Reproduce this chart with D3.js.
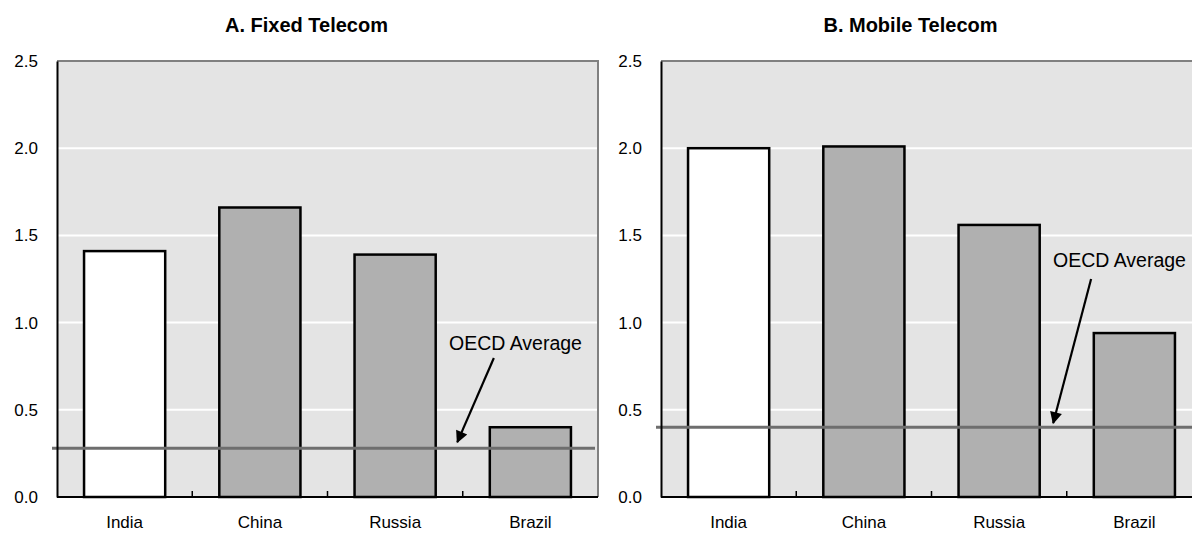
<!DOCTYPE html>
<html><head><meta charset="utf-8">
<script src="https://cdn.jsdelivr.net/npm/d3@7"></script>
<style>body{margin:0;background:#fff}svg{display:block;font-family:"Liberation Sans",Arial,sans-serif}</style>
</head><body><svg id="c" width="1192" height="533"></svg>
<script>
const categories = ["India", "China", "Russia", "Brazil"];
const fixedValues = [1.41, 1.66, 1.39, 0.40];
const mobileValues = [2.00, 2.01, 1.56, 0.94];
const oecdAvg = [0.28, 0.40];
const titles = ["A. Fixed Telecom", "B. Mobile Telecom"];
const yTicks = [0, 0.5, 1.0, 1.5, 2.0, 2.5];
const fills = ["#ffffff", "#b0b0b0", "#b0b0b0", "#b0b0b0"];

const svg = d3.select("#c");
const panels = [
  {left: 57, values: fixedValues, avg: oecdAvg[0], title: titles[0],
   label: {x: 3.39, y: 0.843}, arrowFrom: {x: 3.23, y: 0.797}, arrowTo: {x: 2.96, y: 0.315}},
  {left: 661, values: mobileValues, avg: oecdAvg[1], title: titles[1],
   label: {x: 3.39, y: 1.319}, arrowFrom: {x: 3.18, y: 1.25}, arrowTo: {x: 2.90, y: 0.424}}
];
const W = 541, plotTop = 61, plotBottom = 497;
const FONT = "Liberation Sans, Arial, sans-serif";

const defs = svg.append("defs");
defs.append("marker").attr("id","ah").attr("viewBox","0 0 10 10").attr("refX",9).attr("refY",5)
  .attr("markerWidth",6.5).attr("markerHeight",5.5).attr("orient","auto")
  .append("path").attr("d","M0,0 L10,5 L0,10 z").attr("fill","#000");

panels.forEach(p => {
  const x = d3.scaleBand().domain(categories).range([p.left, p.left + W]).paddingInner(0.4).paddingOuter(0.2);
  const xl = d3.scaleLinear().domain([0, 4]).range([p.left, p.left + W]);
  const y = d3.scaleLinear().domain([0, 2.5]).range([plotBottom, plotTop]);
  const g = svg.append("g");
  g.append("rect").attr("x", p.left).attr("y", plotTop).attr("width", W).attr("height", plotBottom - plotTop).attr("fill", "#e4e4e4");
  g.selectAll(".grid").data(yTicks.filter(t => t > 0 && t < 2.5)).join("line")
    .attr("x1", p.left).attr("x2", p.left + W).attr("y1", d => y(d)).attr("y2", d => y(d))
    .attr("stroke", "#fff").attr("stroke-width", 2);
  g.append("path").attr("d", `M${p.left},${plotTop}H${p.left + W}V${plotBottom}`).attr("fill","none")
    .attr("stroke","#808080").attr("stroke-width",2);
  g.selectAll(".bar").data(p.values).join("rect")
    .attr("x", (d, i) => x(categories[i])).attr("width", x.bandwidth())
    .attr("y", d => y(d)).attr("height", d => plotBottom - y(d))
    .attr("fill", (d, i) => fills[i]).attr("stroke", "#000").attr("stroke-width", 2.5);
  g.append("line").attr("x1", p.left - 5).attr("x2", p.left + W - 3)
    .attr("y1", y(p.avg)).attr("y2", y(p.avg)).attr("stroke", "#6e6e6e").attr("stroke-width", 3);
  const ya = d3.axisLeft(y).tickValues(yTicks).tickFormat(d3.format(".1f")).tickSize(0).tickPadding(19);
  const yg = g.append("g").attr("transform", `translate(${p.left},0)`).call(ya);
  yg.select(".domain").attr("stroke","#000").attr("stroke-width",2);
  yg.selectAll("text").attr("font-size", 17).attr("fill","#000").attr("font-family", FONT);
  const xa = d3.axisBottom(x).tickSize(0).tickPadding(19);
  const xg = g.append("g").attr("transform", `translate(0,${plotBottom})`).call(xa);
  xg.select(".domain").attr("stroke","#000").attr("stroke-width",2).attr("d", `M${p.left},0H${p.left + W}`);
  xg.selectAll("text").attr("font-size", 17).attr("fill","#000").attr("font-family", FONT);
  g.selectAll(".tk").data([1, 2, 3]).join("line")
    .attr("x1", d => xl(d)).attr("x2", d => xl(d)).attr("y1", plotBottom).attr("y2", plotBottom - 6)
    .attr("stroke", "#000").attr("stroke-width", 1.5);
  g.append("text").attr("x", p.left + W / 2 - 21).attr("y", 31.5).attr("text-anchor","middle")
    .attr("font-size", 20).attr("font-weight","bold").text(p.title);
  g.append("text").attr("x", xl(p.label.x)).attr("y", y(p.label.y)).attr("text-anchor","middle")
    .attr("font-size", 19.5).text("OECD Average");
  g.append("line").attr("x1", xl(p.arrowFrom.x)).attr("y1", y(p.arrowFrom.y))
    .attr("x2", xl(p.arrowTo.x)).attr("y2", y(p.arrowTo.y))
    .attr("stroke","#000").attr("stroke-width",2.2).attr("marker-end","url(#ah)");
});
</script></body></html>
